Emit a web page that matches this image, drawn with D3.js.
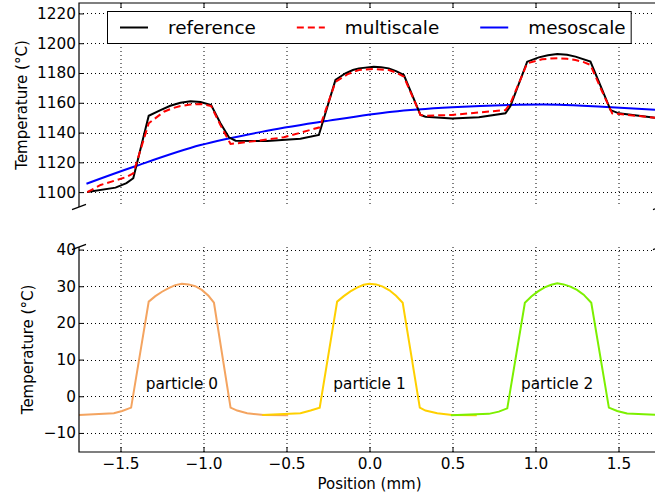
<!DOCTYPE html>
<html>
<head>
<meta charset="utf-8">
<script src="https://cdn.jsdelivr.net/npm/d3@7"></script>
<style>
  body { margin: 0; background: #fff; }
  text { font-family: "DejaVu Sans", sans-serif; fill: #000; }
</style>
</head>
<body>
<div id="chart"></div>
<script>
// top panel: coupled temperatures
let refX = [-1.70, -1.53, -1.464, -1.423, -1.33, -1.259, -1.2, -1.139, -1.078, -1.018, -0.954, -0.898, -0.847, -0.807, -0.616, -0.416, -0.305,
  -0.205, -0.145, -0.1, -0.064, 0.026, 0.07, 0.116, 0.16, 0.207, 0.307, 0.337, 0.498, 0.659, 0.819, 0.849, 0.95, 1.02, 1.075, 1.131, 1.19, 1.241, 1.331, 1.402, 1.452, 1.502, 1.72];
let refT = [1100, 1103, 1106, 1109.3, 1151.3, 1155, 1158, 1160, 1161, 1160.5, 1158.5, 1146.2, 1136.8, 1134.5, 1134.3, 1135.9, 1138.4,
  1175.3, 1179.8, 1182, 1183.1, 1184.2, 1183.9, 1183.1, 1181.3, 1178.6, 1151.8, 1150.6, 1149.5, 1150.2, 1152.9, 1157.8, 1187.6, 1190.5, 1191.9, 1192.8, 1192.3, 1191, 1187.6, 1168.6, 1155.1, 1152.9, 1150];

let multiX = [-1.70, -1.62, -1.46, -1.423, -1.33, -1.239, -1.19, -1.139, -1.08, -1.018, -0.954, -0.898, -0.837, -0.717, -0.516, -0.30,
  -0.205, -0.13, -0.064, 0.026, 0.116, 0.16, 0.207, 0.307, 0.337, 0.498, 0.819, 0.849, 0.95, 1.04, 1.09, 1.14, 1.19, 1.241, 1.29, 1.331, 1.402, 1.462, 1.72];
let multiT = [1100, 1104.8, 1110.3, 1112.6, 1146.2, 1154, 1156.2, 1157.8, 1158.8, 1159.2, 1157.8, 1145, 1132.3, 1133.9, 1136.8, 1143.5,
  1174, 1179.3, 1182, 1182.7, 1182, 1180.3, 1177.5, 1151.8, 1151.3, 1151.8, 1155.1, 1159.6, 1186.5, 1189.2, 1189.7, 1189.9, 1189.5, 1188.7, 1187.3, 1185.4, 1167.4, 1152.9, 1150];

let mesoX = [-1.705, -1.42, -1.018, -0.616, -0.245, 0.137, 0.498, 0.839, 1.14, 1.402, 1.72];
let mesoT = [1105.6, 1117, 1131.6, 1141.2, 1148, 1154, 1157, 1158.5, 1158.7, 1157.4, 1155.3];

// bottom panel: particle temperatures
let p0X = [-1.75, -1.54, -1.49, -1.436, -1.33, -1.29, -1.25, -1.21, -1.17, -1.13, -1.09, -1.05, -1.01, -0.97, -0.937, -0.837, -0.797, -0.737, -0.637, -0.49];
let p0T = [-5.1, -4.65, -4.0, -3.1, 25.8, 27.3, 28.5, 29.5, 30.3, 30.7, 30.5, 30.0, 29.0, 27.4, 25.5, -3.1, -3.9, -4.65, -5.1, -5.2];
let p1X = [-0.646, -0.416, -0.355, -0.30, -0.195, -0.155, -0.115, -0.075, -0.035, 0.0, 0.04, 0.08, 0.12, 0.16, 0.2, 0.303, 0.337, 0.408, 0.498, 0.646];
let p1T = [-5.1, -4.65, -3.9, -3.1, 25.8, 27.3, 28.6, 29.6, 30.4, 30.7, 30.5, 29.9, 28.9, 27.4, 25.5, -3.1, -3.9, -4.65, -5.1, -5.2];
let p2X = [0.49, 0.719, 0.779, 0.83, 0.936, 0.975, 1.015, 1.055, 1.095, 1.131, 1.17, 1.21, 1.25, 1.29, 1.336, 1.442, 1.492, 1.552, 1.75];
let p2T = [-5.2, -4.8, -4.2, -3.3, 25.5, 27.2, 28.6, 29.7, 30.4, 30.8, 30.5, 29.9, 29.0, 27.7, 25.5, -3.1, -4.0, -4.7, -5.1];

let particleNames = ["particle 0", "particle 1", "particle 2"];
let particleCenters = [-1.13, 0.0, 1.13];
let particleLabelT = 2;
let particleColors = ["#f4a460", "#ffd000", "#7cf000"];

let legendNames = ["reference", "multiscale", "mesoscale"];

let xTicks = [-1.5, -1.0, -0.5, 0.0, 0.5, 1.0, 1.5];
let topTicks = [1100, 1120, 1140, 1160, 1180, 1200, 1220];
let botTicks = [-10, 0, 10, 20, 30, 40];

let W = 655, H = 497;
let left = 79, right = 660;
let top1 = 3, bot1 = 207, top2 = 247, bot2 = 452;

let svg = d3.select("#chart").append("svg")
  .attr("width", W).attr("height", H);

let x = d3.scaleLinear().domain([-1.75, 1.75]).range([left, right]);
let yTop = d3.scaleLinear().domain([1090, 1227]).range([bot1, top1]);
let yBot = d3.scaleLinear().domain([-15.2, 40.7]).range([bot2, top2]);

function zip(xs, ys) {
  return xs.map((v, i) => [v, ys[i]]);
}

function grid(y, yTicks, y0, y1) {
  let g = svg.append("g")
    .attr("stroke", "#000")
    .attr("stroke-width", 1)
    .attr("stroke-dasharray", "1,3");
  g.selectAll(".gx").data(xTicks).enter().append("line")
    .attr("x1", d => x(d) + 0.5).attr("x2", d => x(d) + 0.5)
    .attr("y1", y0).attr("y2", y1);
  g.selectAll(".gy").data(yTicks).enter().append("line")
    .attr("x1", left).attr("x2", right)
    .attr("y1", d => Math.round(y(d)) + 0.5).attr("y2", d => Math.round(y(d)) + 0.5);
}

grid(yTop, topTicks, top1, bot1);
grid(yBot, botTicks, top2, bot2);

// top panel lines
let lineTop = d3.line().x(d => x(d[0])).y(d => yTop(d[1]));
svg.append("path").datum(zip(mesoX, mesoT))
  .attr("d", lineTop.curve(d3.curveCatmullRom))
  .attr("fill", "none").attr("stroke", "#0000ff").attr("stroke-width", 2);
lineTop.curve(d3.curveLinear);
svg.append("path").datum(zip(refX, refT))
  .attr("d", lineTop)
  .attr("fill", "none").attr("stroke", "#000").attr("stroke-width", 2);
svg.append("path").datum(zip(multiX, multiT))
  .attr("d", lineTop)
  .attr("fill", "none").attr("stroke", "#ff0000").attr("stroke-width", 2)
  .attr("stroke-dasharray", "7,4");

// bottom panel lines
let lineBot = d3.line().x(d => x(d[0])).y(d => yBot(d[1]));
[zip(p0X, p0T), zip(p1X, p1T), zip(p2X, p2T)].forEach((pts, i) => {
  svg.append("path").datum(pts)
    .attr("d", lineBot)
    .attr("fill", "none").attr("stroke", particleColors[i]).attr("stroke-width", 2);
});

svg.selectAll(".plabel").data(particleNames).enter().append("text")
  .attr("x", (d, i) => x(particleCenters[i]))
  .attr("y", yBot(particleLabelT))
  .attr("text-anchor", "middle")
  .style("font-size", "15.3px")
  .text(d => d);

// axes
function styleAxis(g) {
  g.select(".domain").remove();
  g.selectAll("text").style("font-size", "15.3px").style("font-family", "DejaVu Sans");
  g.selectAll("line").attr("stroke", "#000");
}

svg.append("g").attr("transform", "translate(" + left + ",0)")
  .call(d3.axisLeft(yTop).tickValues(topTicks).tickFormat(d3.format("d")).tickSize(-5).tickPadding(3))
  .call(styleAxis);
svg.append("g").attr("transform", "translate(" + left + ",0)")
  .call(d3.axisLeft(yBot).tickValues(botTicks).tickFormat(d3.format("d")).tickSize(-5).tickPadding(3))
  .call(styleAxis);
svg.append("g").attr("transform", "translate(0," + top1 + ")")
  .call(d3.axisTop(x).tickValues(xTicks).tickFormat("").tickSize(-5))
  .call(styleAxis);
svg.append("g").attr("transform", "translate(0," + bot2 + ")")
  .call(d3.axisBottom(x).tickValues(xTicks).tickFormat(d3.format(".1f")).tickSize(-5).tickPadding(6.5))
  .call(styleAxis);

// spines
let sp = svg.append("g").attr("stroke", "#000").attr("stroke-width", 1.2).attr("fill", "none");
sp.append("path").attr("d", `M${left},${bot1}V${top1}H${right}V${bot1}`);
sp.append("path").attr("d", `M${left},${top2}V${bot2}H${right}V${top2}`);

// break marks
let bk = svg.append("g").attr("stroke", "#000").attr("stroke-width", 1.2);
[[left, bot1], [right, bot1], [left, top2], [right, top2]].forEach(p => {
  bk.append("line")
    .attr("x1", p[0] - 7).attr("y1", p[1] + 2.6)
    .attr("x2", p[0] + 7).attr("y2", p[1] - 2.6);
});

// axis labels
svg.append("text")
  .attr("transform", "translate(27," + (top1 + bot1) / 2 + ") rotate(-90)")
  .attr("text-anchor", "middle")
  .style("font-size", "15px")
  .text("Temperature (°C)");
svg.append("text")
  .attr("transform", "translate(33," + (top2 + bot2) / 2 + ") rotate(-90)")
  .attr("text-anchor", "middle")
  .style("font-size", "15px")
  .text("Temperature (°C)");
svg.append("text")
  .attr("x", (left + right) / 2).attr("y", 489)
  .attr("text-anchor", "middle")
  .style("font-size", "15px")
  .text("Position (mm)");

// legend
let lg = svg.append("g");
let box = lg.append("rect")
  .attr("x", 107.5).attr("y", 11.5).attr("height", 32)
  .attr("fill", "#fff").attr("stroke", "#000").attr("stroke-width", 1);
let legendStyles = [
  { stroke: "#000", dash: null },
  { stroke: "#ff0000", dash: "7,4" },
  { stroke: "#0000ff", dash: null }
];
let cx = 107.5 + 12.5;
legendNames.forEach((name, i) => {
  lg.append("line")
    .attr("x1", cx).attr("x2", cx + 28)
    .attr("y1", 27.5).attr("y2", 27.5)
    .attr("stroke", legendStyles[i].stroke).attr("stroke-width", 2)
    .attr("stroke-dasharray", legendStyles[i].dash);
  let t = lg.append("text")
    .attr("x", cx + 48).attr("y", 33.5)
    .style("font-size", "18.4px")
    .text(name);
  let w = t.node().getComputedTextLength();
  cx = cx + 48 + w + (i < legendNames.length - 1 ? 41 : 5.5);
});
box.attr("width", cx - 107.5);
</script>
</body>
</html>
